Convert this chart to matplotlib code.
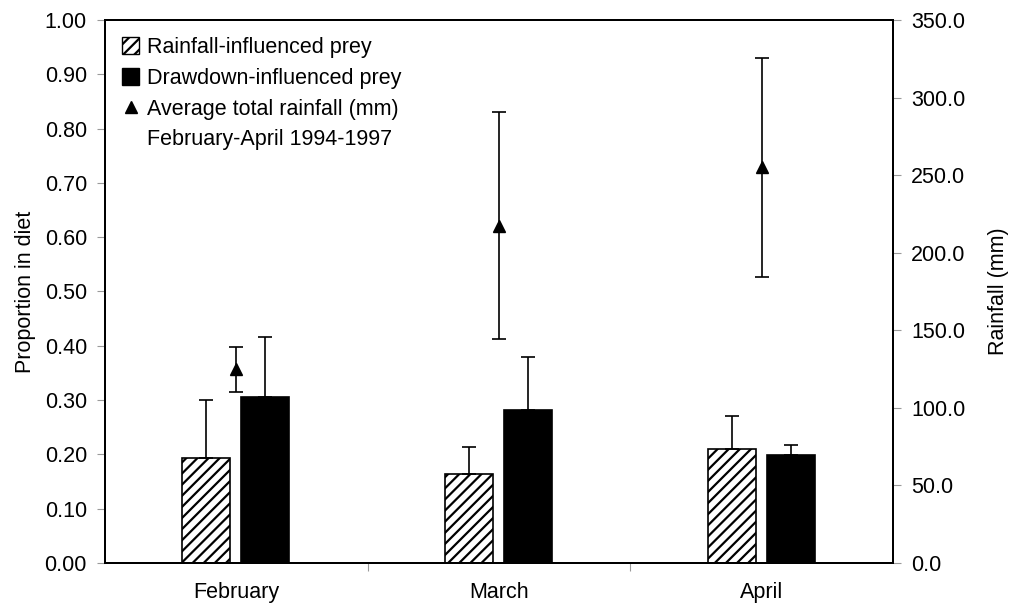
import numpy as np
import matplotlib
matplotlib.use("Agg")
import matplotlib.pyplot as plt
from matplotlib.ticker import FormatStrFormatter
from matplotlib.lines import Line2D
from matplotlib.patches import Patch

plt.rcParams['font.family'] = ['Liberation Sans', 'DejaVu Sans']
plt.rcParams['hatch.linewidth'] = 1.6

months = ['February', 'March', 'April']
rain_prey = [0.193, 0.164, 0.210]
rain_prey_err = [0.107, 0.050, 0.060]
draw_prey = [0.306, 0.282, 0.199]
draw_prey_err = [0.110, 0.097, 0.019]
rainfall = [125.0, 217.5, 255.0]
rainfall_err = [14.5, 73.0, 70.5]

fs = 15.5
fig = plt.figure(figsize=(10.12, 6.05), dpi=100)
ax = fig.add_axes([0.1038, 0.0694, 0.7786, 0.8976])
ax2 = ax.twinx()

x = np.arange(len(months))
w = 0.183
grey = '#9a9a9a'

ax.bar(x - 0.114, rain_prey, w, color='white', edgecolor='black', hatch='///', linewidth=1.2)
ax.errorbar(x - 0.114, rain_prey, yerr=[np.zeros(3), rain_prey_err], fmt='none',
            ecolor='black', elinewidth=1.2, capsize=5, capthick=1.2)
ax.bar(x + 0.110, draw_prey, w, color='black', edgecolor='black', linewidth=1.2)
ax.errorbar(x + 0.110, draw_prey, yerr=[np.zeros(3), draw_prey_err], fmt='none',
            ecolor='black', elinewidth=1.2, capsize=5, capthick=1.2)

ax2.errorbar(x, rainfall, yerr=rainfall_err, fmt='^', color='black', markersize=8,
             elinewidth=1.2, capsize=5, capthick=1.2)

ax.set_xlim(-0.5, 2.5)
ax.set_ylim(0, 1.0)
ax2.set_ylim(0, 350)
ax.set_yticks(np.arange(0, 1.01, 0.1))
ax2.set_yticks(np.arange(0, 351, 50))
ax.yaxis.set_major_formatter(FormatStrFormatter('%.2f'))
ax2.yaxis.set_major_formatter(FormatStrFormatter('%.1f'))

ax.set_xticks(x)
ax.set_xticklabels(months)
ax.set_xticks([0.5, 1.5], minor=True)
ax.tick_params(axis='x', which='major', length=0, labelsize=fs, pad=14)
ax.tick_params(axis='x', which='minor', length=6, color=grey, width=0.8)
ax.tick_params(axis='y', length=6, color=grey, width=0.8, labelsize=fs, pad=7)
ax2.tick_params(axis='y', length=6, color=grey, width=0.8, labelsize=fs, pad=7)

for a in (ax, ax2):
    for s in a.spines.values():
        s.set_linewidth(1.4)

ax.set_ylabel('Proportion in diet', fontsize=fs, labelpad=6)
ax2.set_ylabel('Rainfall (mm)', fontsize=fs, labelpad=16)

handles = [Patch(facecolor='white', edgecolor='black', hatch='///'),
           Patch(facecolor='black', edgecolor='black'),
           Line2D([], [], marker='^', color='black', linestyle='none', markersize=9),
           Line2D([], [], linestyle='none')]
labels = ['Rainfall-influenced prey', 'Drawdown-influenced prey',
          'Average total rainfall (mm)', 'February-April 1994-1997']
ax2.legend(handles, labels, loc='upper left', frameon=False, fontsize=fs,
           handlelength=0.8, handleheight=0.8, handletextpad=0.35,
           borderaxespad=0.3, labelspacing=0.45, borderpad=0.5)

fig.savefig('out.png', dpi=100)
